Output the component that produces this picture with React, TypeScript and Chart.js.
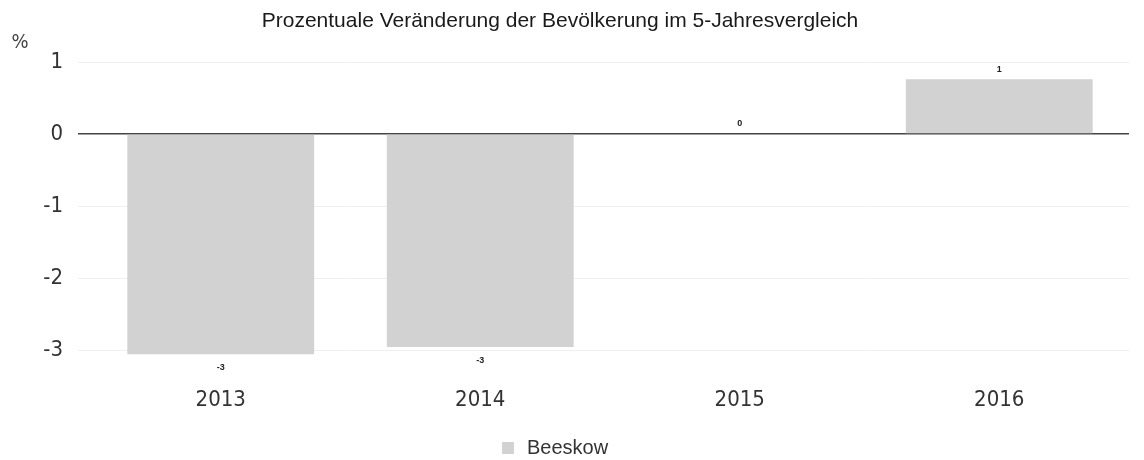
import React, { useEffect, useRef } from "react";
import { Chart, registerables } from "chart.js";

Chart.register(...registerables);

const chartTitle = "Prozentuale Veränderung der Bevölkerung im 5-Jahresvergleich";
const yUnitLabel = "%";
const categories = ["2013", "2014", "2015", "2016"];
const seriesLabel = "Beeskow";
const beeskowValues = [-3.06, -2.96, 0.01, 0.76];
const yTickValues = [-3, -2, -1, 0, 1];

const TICK_FONT = "'DejaVu Sans Condensed', 'DejaVu Sans', sans-serif";
const ARIAL = "'Liberation Sans', Arial, sans-serif";
const BAR_COLOR = "#d2d2d2";

const decorPlugin = {
  id: "decor",
  afterDraw(chart: any) {
    const ctx = chart.ctx;
    ctx.save();
    // title
    ctx.fillStyle = "#1a1a1a";
    ctx.font = `21px ${ARIAL}`;
    ctx.textAlign = "center";
    ctx.textBaseline = "alphabetic";
    ctx.fillText(chartTitle, 560, 27);
    // unit label
    ctx.fillStyle = "#444";
    ctx.font = `20px ${TICK_FONT}`;
    ctx.textAlign = "center";
    ctx.textBaseline = "middle";
    ctx.fillText(yUnitLabel, 20, 43);
    // data labels
    const meta = chart.getDatasetMeta(0);
    const ds = chart.data.datasets[0];
    ctx.fillStyle = "#222";
    ctx.font = `bold 9px ${ARIAL}`;
    meta.data.forEach((bar: any, i: number) => {
      const v = ds.data[i] as number;
      const txt = String(Math.round(v) === 0 ? 0 : Math.round(v));
      const y = v < 0 ? bar.y + 13 : bar.y - 10;
      ctx.fillText(txt, bar.x, y);
    });
    // legend
    const lx = 502;
    const ly = 448;
    ctx.fillStyle = ds.backgroundColor as string;
    ctx.fillRect(lx, ly - 6, 12, 12);
    ctx.fillStyle = "#333";
    ctx.font = `20px ${ARIAL}`;
    ctx.textAlign = "left";
    ctx.textBaseline = "middle";
    ctx.fillText(ds.label, lx + 25, ly);
    ctx.restore();
  },
};

export default function App() {
  const ref = useRef<HTMLCanvasElement>(null);
  useEffect(() => {
    document.body.style.margin = "0";
    if (!ref.current) return;
    const chart = new Chart(ref.current, {
      type: "bar",
      data: {
        labels: categories,
        datasets: [
          {
            label: seriesLabel,
            data: beeskowValues,
            backgroundColor: BAR_COLOR,
            borderWidth: 0,
          },
        ],
      },
      options: {
        animation: false,
        responsive: false,
        layout: { padding: { top: 62, left: 0, right: 15, bottom: 0 } },
        plugins: {
          legend: { display: false },
          title: { display: false },
          tooltip: { enabled: false },
        },
        scales: {
          x: {
            grid: { display: false },
            border: { display: false },
            ticks: {
              padding: 22,
              color: "#333",
              font: { family: TICK_FONT, size: 22 },
            },
            afterFit(scale: any) {
              scale.height = 102.8;
            },
          },
          y: {
            min: -3.1,
            max: 1,
            border: { display: false },
            afterBuildTicks(scale: any) {
              scale.ticks = yTickValues.map((value) => ({ value }));
            },
            afterFit(scale: any) {
              scale.width = 91;
            },
            grid: {
              tickLength: 13,
              color: (c: any) => (c.tick && c.tick.value === 0 ? "#444" : "#efefef"),
              lineWidth: (c: any) => (c.tick && c.tick.value === 0 ? 1.5 : 1),
            },
            ticks: {
              padding: 15,
              color: "#333",
              font: { family: TICK_FONT, size: 22 },
            },
          },
        },
      },
      plugins: [decorPlugin],
    });
    return () => chart.destroy();
  }, []);
  return <canvas ref={ref} width={1144} height={460} style={{ display: "block" }} />;
}
